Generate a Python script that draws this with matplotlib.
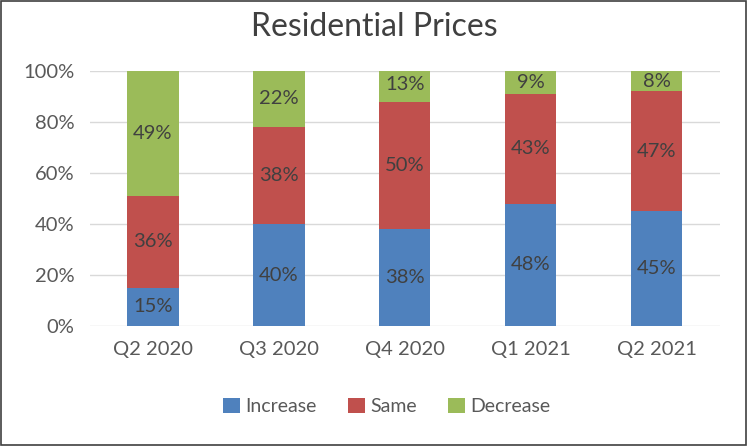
import numpy as np
import matplotlib
matplotlib.use("Agg")
from matplotlib import pyplot as plt
from matplotlib.patches import Rectangle

quarters = ["Q2 2020", "Q3 2020", "Q4 2020", "Q1 2021", "Q2 2021"]
increase = [15, 40, 38, 48, 45]
same = [36, 38, 50, 43, 47]
decrease = [49, 22, 13, 9, 8]

series = [("Increase", increase, "#4F81BD"),
          ("Same", same, "#C0504D"),
          ("Decrease", decrease, "#9BBB59")]

plt.rcParams['font.family'] = ['Lato', 'DejaVu Sans']

fig = plt.figure(figsize=(7.48, 4.46), dpi=100)
ax = fig.add_axes([0.120, 0.269, 0.842, 0.572])

x = np.arange(len(quarters))
bottom = np.zeros(len(quarters))
for name, vals, col in series:
    v = np.array(vals) / 100.0
    ax.bar(x, v, 0.41, bottom=bottom, color=col, label=name, zorder=3)
    for xi, b, h, lab in zip(x, bottom, v, vals):
        ax.text(xi, b + h / 2, "%d%%" % lab, ha="center", va="center",
                fontsize=14.5, color="#404040", zorder=4)
    bottom = bottom + v

ax.set_xlim(-0.5, len(quarters) - 0.5)
ax.set_ylim(0, 1)
ax.set_yticks(np.arange(0, 1.01, 0.2))
ax.set_yticklabels(["%d%%" % (t * 100) for t in np.arange(0, 1.01, 0.2)])
ax.set_xticks(x)
ax.set_xticklabels(quarters)
ax.tick_params(axis="both", length=0, labelsize=14.5, colors="#595959")
ax.tick_params(axis="x", pad=11)
ax.tick_params(axis="y", pad=11)
ax.grid(axis="y", color="#D9D9D9", linewidth=1, zorder=0)
for s in ax.spines.values():
    s.set_visible(False)

fig.text(0.5, 0.94, "Residential Prices", ha="center", va="center",
         fontsize=23, color="#404040")

leg = ax.legend(loc="center", bbox_to_anchor=(0.472, -0.315), ncol=3,
                frameon=False, fontsize=14, handlelength=0.85, handleheight=0.85,
                handletextpad=0.3, columnspacing=1.6)
for t in leg.get_texts():
    t.set_color("#595959")

fig.patches.append(Rectangle((0.002, 0.003), 0.995, 0.994, transform=fig.transFigure,
                             fill=False, edgecolor="#404040", linewidth=1.2))

fig.savefig("out.png", dpi=100)
